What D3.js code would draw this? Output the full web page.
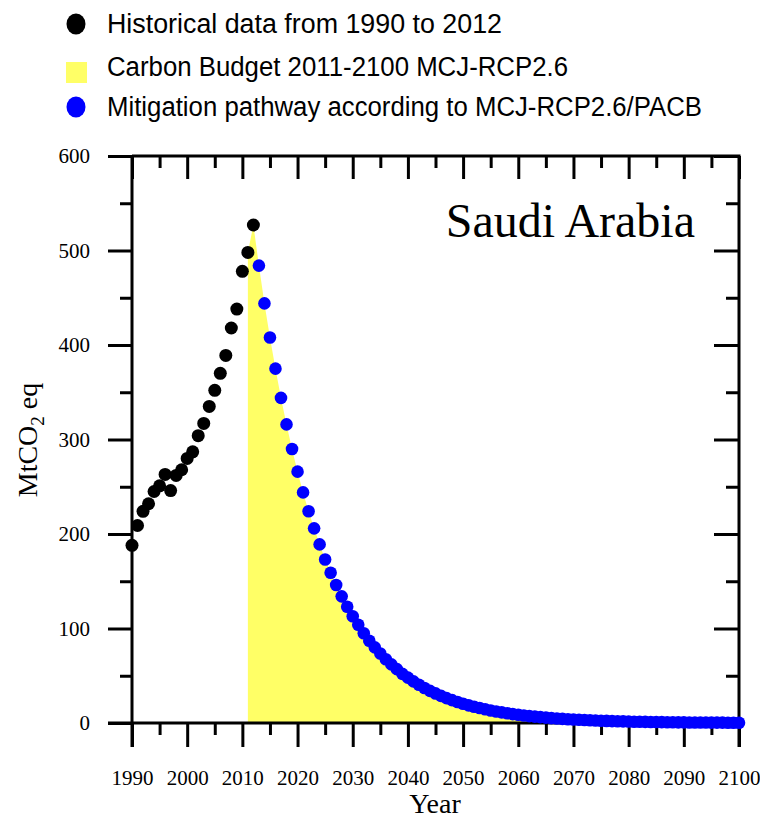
<!DOCTYPE html>
<html lang="en">
    <head>
        <meta charset="utf-8" />
        <title>Saudi Arabia - carbon budget</title>
        <script type="text/javascript" src="https://cdn.jsdelivr.net/npm/d3@7/dist/d3.min.js"></script>
        <style>
            body { margin: 0; background: #fff; }
            .serif { font-family: "Liberation Serif", "Times New Roman", serif; }
            .sans { font-family: "Liberation Sans", Arial, sans-serif; }
        </style>
    </head>
    <body>
        <svg width="760" height="820"></svg>

        <script type="text/javascript">
            // Historical emissions 1990-2012 (MtCO2 eq)
            var histStart = 1990;
            var histValues = [188, 209, 224, 232, 245, 251, 263, 246, 262, 268,
                              280, 287, 304, 317, 335, 352, 370, 389, 418, 438,
                              478, 498, 527];

            // Mitigation pathway 2013-2100 (MtCO2 eq)
            var pathStart = 2013;
            var pathValues = [484, 444, 408, 375, 344, 316, 290, 266, 244, 224,
                              206, 189, 173, 159, 146, 134, 123, 113, 104, 95,
                              87, 80, 73.5, 67.5, 62, 57, 52, 48, 44, 40.5,
                              37, 34, 31.3, 28.7, 26.3, 24.2, 22.2, 20.4, 18.7, 17.2,
                              15.8, 14.5, 13.3, 12.2, 11.2, 10.3, 9.4, 8.7, 8.0, 7.3,
                              6.7, 6.2, 5.7, 5.2, 4.8, 4.4, 4.0, 3.7, 3.4, 3.1,
                              2.9, 2.6, 2.4, 2.2, 2.0, 1.9, 1.7, 1.6, 1.4, 1.3,
                              1.2, 1.1, 1.0, 0.9, 0.85, 0.8, 0.7, 0.65, 0.6, 0.55,
                              0.5, 0.45, 0.4, 0.38, 0.35, 0.32, 0.3, 0.27];

            var budgetStart = 2011;
            var xTicks = [1990, 2000, 2010, 2020, 2030, 2040, 2050, 2060, 2070, 2080, 2090, 2100];
            var yTicks = [0, 100, 200, 300, 400, 500, 600];
            var legendLabels = ['Historical data from 1990 to 2012',
                                'Carbon Budget 2011-2100 MCJ-RCP2.6',
                                'Mitigation pathway according to MCJ-RCP2.6/PACB'];

            var hist = histValues.map(function(v, i) { return { year: histStart + i, value: v }; });
            var path = pathValues.map(function(v, i) { return { year: pathStart + i, value: v }; });
            var budget = hist.filter(function(d) { return d.year >= budgetStart; }).concat(path);

            var svg = d3.select('svg');
            var padLeft = 132, padRight = 739, padTop = 156, padBottom = 723;

            var x = d3.scaleLinear().domain([1990, 2100]).range([padLeft, padRight]);
            var y = d3.scaleLinear().domain([0, 600]).range([padBottom, padTop]);

            // yellow budget area
            var area = d3.area()
                         .x(function(d) { return x(d.year); })
                         .y0(y(0))
                         .y1(function(d) { return y(d.value); });

            svg.append('path')
               .datum(budget)
               .attr('fill', '#ffff66')
               .attr('d', area);

            // axes: major + minor ticks on every side
            var minorX = d3.range(1995, 2100, 10);
            var minorY = d3.range(50, 600, 100);

            function styleAxis(g) {
                g.select('.domain').remove();
                g.selectAll('line').attr('stroke', '#000').attr('stroke-width', 3);
            }

            var bottomG = svg.append('g').attr('transform', 'translate(0,' + padBottom + ')');
            bottomG.call(d3.axisBottom(x).tickValues(xTicks).tickSize(24).tickFormat(d3.format('d')))
                   .call(styleAxis);
            bottomG.selectAll('text')
                   .attr('class', 'serif').attr('font-size', 21).attr('fill', '#000')
                   .attr('dy', null).attr('y', 62);
            svg.append('g').attr('transform', 'translate(0,' + padBottom + ')')
               .call(d3.axisBottom(x).tickValues(minorX).tickSize(12).tickFormat(''))
               .call(styleAxis);

            svg.append('g').attr('transform', 'translate(0,' + padTop + ')')
               .call(d3.axisBottom(x).tickValues(xTicks).tickSize(23).tickFormat(''))
               .call(styleAxis);
            svg.append('g').attr('transform', 'translate(0,' + padTop + ')')
               .call(d3.axisBottom(x).tickValues(minorX).tickSize(12).tickFormat(''))
               .call(styleAxis);

            var leftG = svg.append('g').attr('transform', 'translate(' + padLeft + ',0)');
            leftG.call(d3.axisLeft(y).tickValues(yTicks).tickSize(24).tickFormat(d3.format('d')))
                 .call(styleAxis);
            leftG.selectAll('text')
                 .attr('class', 'serif').attr('font-size', 21).attr('fill', '#000')
                 .attr('x', -42);
            svg.append('g').attr('transform', 'translate(' + padLeft + ',0)')
               .call(d3.axisLeft(y).tickValues(minorY).tickSize(12).tickFormat(''))
               .call(styleAxis);

            svg.append('g').attr('transform', 'translate(' + padRight + ',0)')
               .call(d3.axisLeft(y).tickValues(yTicks).tickSize(25).tickFormat(''))
               .call(styleAxis);
            svg.append('g').attr('transform', 'translate(' + padRight + ',0)')
               .call(d3.axisLeft(y).tickValues(minorY).tickSize(13).tickFormat(''))
               .call(styleAxis);

            // frame lines
            var frame = svg.append('g').attr('stroke', '#000').attr('stroke-width', 3).attr('fill', 'none');
            frame.append('path').attr('d', 'M' + padLeft + ',' + padTop + 'H' + padRight + 'V' + (padBottom + 24));
            frame.append('path').attr('d', 'M' + padLeft + ',' + padTop + 'V' + (padBottom + 24));
            frame.append('path').attr('d', 'M' + (padLeft - 24) + ',' + padBottom + 'H' + padRight);

            // points
            svg.append('g').selectAll('circle')
               .data(hist).enter().append('circle')
               .attr('cx', function(d) { return x(d.year); })
               .attr('cy', function(d) { return y(d.value); })
               .attr('r', 6.5)
               .attr('fill', '#000');

            svg.append('g').selectAll('circle')
               .data(path).enter().append('circle')
               .attr('cx', function(d) { return x(d.year); })
               .attr('cy', function(d) { return y(d.value); })
               .attr('r', 6.3)
               .attr('fill', '#0000ff');

            // title
            svg.append('text').attr('class', 'serif')
               .attr('x', 695).attr('y', 237)
               .attr('text-anchor', 'end').attr('font-size', 48)
               .text('Saudi Arabia');

            // axis titles
            svg.append('text').attr('class', 'serif')
               .attr('x', 435).attr('y', 813)
               .attr('text-anchor', 'middle').attr('font-size', 28)
               .text('Year');

            var yLab = svg.append('text').attr('class', 'serif')
               .attr('transform', 'translate(37,440) rotate(-90)')
               .attr('text-anchor', 'middle').attr('font-size', 28);
            yLab.append('tspan').text('MtCO');
            yLab.append('tspan').attr('font-size', 19).attr('dy', 7).text('2');
            yLab.append('tspan').attr('dy', -7).text(' eq');

            // legend
            var legendY = [24, 67, 107];
            var legendW = [395, 461, 595];
            var legend = svg.append('g');
            legend.append('ellipse').attr('cx', 76).attr('cy', legendY[0]).attr('rx', 9.5).attr('ry', 10.5).attr('fill', '#000');
            legend.append('rect').attr('x', 66).attr('y', legendY[1] - 5).attr('width', 21).attr('height', 21).attr('fill', '#ffff66');
            legend.append('ellipse').attr('cx', 76).attr('cy', legendY[2]).attr('rx', 9.5).attr('ry', 10.5).attr('fill', '#0000ff');
            legend.selectAll('text.lg')
                  .data(legendLabels).enter().append('text')
                  .attr('class', 'sans')
                  .attr('x', 107)
                  .attr('y', function(d, i) { return legendY[i] + 9; })
                  .attr('font-size', 27)
                  .attr('textLength', function(d, i) { return legendW[i]; })
                  .attr('lengthAdjust', 'spacingAndGlyphs')
                  .text(function(d) { return d; });
        </script>
    </body>
</html>
